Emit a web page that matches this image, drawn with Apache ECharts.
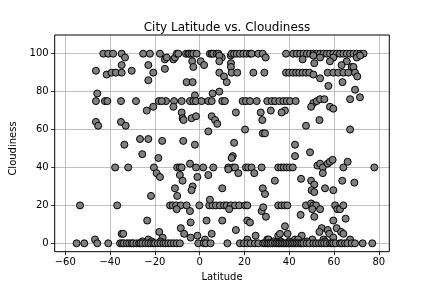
<!DOCTYPE html>
<html><head><meta charset="utf-8">
<script src="https://cdn.jsdelivr.net/npm/echarts@6/dist/echarts.min.js"></script>
<style>html,body{margin:0;padding:0;background:#fff}#c{width:432px;height:288px}</style>
</head><body><div id="c"></div>
<script>
// ---- data: [latitude, cloudiness] ----
const cloudTop = [[-43.0,100],[-40.8,100],[-38.6,100],[-34.8,100],[-33.3,98],[-25.2,100],[-22.2,100],[-17.7,100],[-15.5,97],[-11.7,97],[-14.7,98],[-11.0,98],[-10.2,100],[-9.5,100],[-6.1,100],[-5.1,100],[-4.6,100],[-3.6,100],[-2.8,100],[-1.3,100],[4.6,100],[5.4,100],[6.1,100],[7.6,100],[8.4,100],[9.9,98],[8.8,99],[13.9,99],[14.3,100],[15.4,100],[16.6,100],[18.0,100],[19.5,100],[21.0,100],[22.5,100],[23.2,100],[26.2,100],[28.2,100],[29.5,98],[38.6,100],[41.8,100],[43.4,100],[44.9,100],[46.4,100],[47.9,100],[49.3,100],[50.8,100],[52.3,100],[53.8,100],[55.3,100],[56.8,100],[58.2,100],[59.7,100],[61.2,100],[62.7,100],[64.2,100],[65.7,100],[67.2,100],[68.7,100],[70.2,100],[71.7,100],[73.2,100],[46.0,97],[50.8,99],[53.8,98],[59.7,98],[70.2,98],[71.7,99],[65.7,96]];
const cloudHigh = [[-46.3,91],[-41.5,89],[-39.3,90],[-37.4,90],[-34.8,90],[-34.8,94],[-30.3,91],[-22.9,94],[-20.7,90],[-22.9,86],[-15.5,92],[-3.3,96],[-2.8,93],[0.5,96],[2.0,94],[8.8,96],[14.0,95],[14.0,93],[14.3,90],[16.8,90],[24.0,90],[28.9,90],[8.8,90],[10.9,88],[12.1,85],[-5.8,85],[-3.1,85],[38.6,90],[51.2,95],[58.2,96],[63.4,94],[67.9,93],[40.0,90],[41.6,90],[43.1,90],[44.5,90],[46.0,90],[47.5,90],[49.0,90],[50.8,89],[53.8,87],[57.2,90],[59.7,90],[61.9,90],[64.2,90],[66.4,90],[68.7,93],[69.4,90],[70.4,88],[57.5,83],[63.8,85],[69.4,81]];
const cloudMidHigh = [[-45.7,79],[-46.3,75],[-42.3,75],[-41.2,75],[-35.1,75],[-28.4,75],[-18.2,75],[-15.0,75],[-23.6,70],[-20.7,72],[-46.3,64],[-45.3,62],[-35.1,64],[-33.0,62],[8.8,80],[5.8,79],[-2.1,78],[-16.9,75],[-11.4,75],[-8.0,75],[-4.3,75],[-2.8,75],[-1.6,75],[0.9,75],[3.9,75],[5.4,75],[10.1,75],[11.3,75],[19.2,75],[20.7,75],[22.5,75],[25.5,75],[30.2,75],[32.2,75],[33.7,75],[35.6,75],[37.4,75],[38.9,75],[-11.7,72],[-8.0,69],[-7.6,66],[-7.2,65],[-3.6,66],[-1.6,67],[5.4,67],[6.9,65],[7.9,63],[16.2,69],[27.3,69],[31.8,70],[28.0,65],[38.1,70],[3.9,59],[20.3,60],[28.2,58],[29.2,58],[40.4,75],[42.9,75],[50.8,74],[52.3,75],[53.8,76],[55.7,76],[49.8,72],[58.2,72],[59.7,71],[67.2,76],[71.6,77],[36.6,69],[53.5,65],[47.5,62],[67.2,60]];
const cloudMid = [[-26.6,55],[-22.9,55],[-16.7,54],[-33.6,52],[-25.6,47],[-18.4,45],[-7.3,54],[-2.1,52],[15.4,53],[14.8,46],[14.3,45],[-4.3,42],[42.6,52],[42.6,46],[49.3,48],[-37.7,40],[-31.9,40],[-20.4,40],[-19.2,37],[-17.7,35],[-10.0,40],[-8.8,40],[-8.0,40],[-1.6,40],[1.6,40],[6.1,40],[12.8,40],[14.8,40],[15.8,40],[20.7,40],[21.7,40],[23.2,40],[27.7,40],[35.1,40],[36.4,40],[37.6,40],[38.9,40],[40.2,40],[41.6,40],[52.6,41],[53.8,42],[55.0,40],[55.0,37],[57.2,42],[58.2,43],[59.4,44],[64.2,40],[66.1,43],[78.0,40],[3.9,36],[12.8,39],[17.3,37],[24.4,37],[-8.8,36],[-7.6,33],[-1.0,35],[33.6,33],[-11.0,29],[-10.0,25],[-3.1,30],[-3.6,28],[10.1,29],[28.2,29],[29.2,26],[-21.7,25],[45.3,34],[49.8,33],[51.2,31],[50.0,28],[51.2,27],[56.0,29],[59.7,28],[63.7,33],[69.1,32]];
const cloudLow = [[-53.4,20],[-36.8,20],[-13.2,20],[-12.0,20],[-10.5,20],[-8.4,20],[-5.8,20],[-0.1,20],[4.3,20],[5.8,20],[7.3,20],[9.1,20],[10.9,20],[12.1,20],[13.9,20],[15.8,20],[17.7,20],[20.3,20],[21.3,20],[35.1,20],[36.6,20],[38.0,20],[39.2,20],[-10.2,18],[-4.3,17],[13.2,18],[27.7,17],[28.4,19],[29.6,14],[4.6,23],[47.5,20],[49.8,21],[50.8,20],[52.0,20],[50.3,18],[53.8,18],[45.1,15],[51.2,14],[60.5,20],[61.5,18],[62.7,18],[64.2,20],[59.7,12],[65.2,13],[-23.4,12],[-4.0,11],[3.1,12],[10.1,12],[21.3,12],[22.5,11]];
const cloudNearZero = [[-34.8,5],[-34.1,5],[-18.0,6],[-16.5,3],[-46.7,2],[-25.5,1],[-22.9,2],[-21.4,1],[-17.5,1],[-8.4,8],[-6.9,5],[-4.0,3],[-1.0,4],[5.4,5],[16.2,7],[25.0,4],[35.1,4],[35.9,5],[38.1,9],[2.4,2],[21.3,2],[30.2,2],[30.8,2],[39.3,5],[45.6,4],[54.5,8],[53.5,6],[57.2,7],[57.9,5],[61.2,8],[63.2,6],[64.2,5],[67.2,2],[59.7,3],[50.3,2],[55.3,2],[42.6,2],[33.0,1],[36.2,1],[40.0,1],[44.0,2],[48.0,1],[56.0,1]];
const cloudZero = [[-54.9,0],[-51.5,0],[-45.7,0],[-40.8,0],[-35.5,0],[-34.6,0],[-33.8,0],[-32.5,0],[-31.4,0],[-30.3,0],[-29.6,0],[-28.2,0],[-27.0,0],[-26.4,0],[-25.5,0],[-24.1,0],[-22.9,0],[-21.8,0],[-20.7,0],[-19.9,0],[-18.6,0],[-17.4,0],[-16.2,0],[-15.2,0],[-14.0,0],[-12.8,0],[-11.5,0],[-10.2,0],[-8.8,0],[-0.6,0],[1.9,0],[2.8,0],[4.9,0],[12.4,0],[18.0,0],[19.8,0],[21.3,0],[22.8,0],[24.7,0],[26.2,0],[28.4,0],[29.2,0],[30.2,0],[30.9,0],[31.7,0],[32.5,0],[33.6,0],[34.3,0],[35.1,0],[35.8,0],[36.6,0],[37.3,0],[38.1,0],[38.8,0],[39.6,0],[40.3,0],[41.1,0],[41.8,0],[42.6,0],[43.4,0],[44.1,0],[44.9,0],[45.6,0],[46.4,0],[47.8,0],[49.0,0],[50.8,0],[52.0,0],[53.3,0],[54.5,0],[55.6,0],[56.8,0],[58.2,0],[59.0,0],[59.7,0],[60.8,0],[62.7,0],[63.5,0],[64.9,0],[66.0,0],[67.9,0],[69.4,0],[72.8,0],[77.1,0]];
const xTicks = {min: -60, max: 80, step: 20};
const yTicks = {min: 0, max: 100, step: 20};
const titleText = 'City Latitude vs. Cloudiness';
const xLabel = 'Latitude';
const yLabel = 'Cloudiness';

// ---- layout ----
const W = 432, H = 288;
const L = 54.7, R = 389.3, T = 35, B = 251.7;
const xMin = -64.7, xMax = 84.7, yMin = -4.43, yMax = 109.86;
const xPx = v => L + (v - xMin) / (xMax - xMin) * (R - L);
const yPx = v => T + (yMax - v) / (yMax - yMin) * (B - T);
const font = 'DejaVu Sans';
const minus = v => String(v).replace('-', '\u2212');

const allPoints = [].concat(cloudTop, cloudHigh, cloudMidHigh, cloudMid, cloudLow, cloudNearZero, cloudZero);

const chart = echarts.init(document.getElementById('c'), null, {renderer: 'canvas'});
chart.setOption({
  animation: false,
  backgroundColor: '#fff',
  title: {text: titleText, left: (L + R) / 2, textAlign: 'center', top: 17,
    textStyle: {fontFamily: font, fontSize: 12, fontWeight: 'normal', color: '#000'}},
  grid: [
    {left: L, right: W - R, top: T, bottom: H - B, show: true, borderColor: '#000', borderWidth: 1, backgroundColor: 'transparent', z: 3},
    {left: xPx(xTicks.min), right: W - xPx(xTicks.max), top: T, bottom: H - B},
    {left: L, right: W - R, top: yPx(yTicks.max), bottom: H - yPx(yTicks.min)}
  ],
  xAxis: [
    {type: 'value', gridIndex: 0, min: xMin, max: xMax, axisLine: {show: false}, axisTick: {show: false}, axisLabel: {show: false}, splitLine: {show: false}},
    {type: 'value', gridIndex: 1, min: xTicks.min, max: xTicks.max, interval: xTicks.step, position: 'bottom',
      axisLine: {show: false, onZero: false},
      axisTick: {show: true, length: 3.5, lineStyle: {color: '#000', width: 0.8}},
      axisLabel: {show: true, margin: 6, color: '#000', fontFamily: font, fontSize: 10, formatter: minus},
      splitLine: {show: true, lineStyle: {color: '#b0b0b0', width: 0.8}},
      name: xLabel, nameLocation: 'middle', nameGap: 19,
      nameTextStyle: {fontFamily: font, fontSize: 10, color: '#000'}},
    {type: 'value', gridIndex: 2, min: xMin, max: xMax, show: false, splitLine: {show: false}}
  ],
  yAxis: [
    {type: 'value', gridIndex: 0, min: yMin, max: yMax, axisLine: {show: false}, axisTick: {show: false}, axisLabel: {show: false}, splitLine: {show: false}},
    {type: 'value', gridIndex: 1, min: yMin, max: yMax, show: false, splitLine: {show: false}},
    {type: 'value', gridIndex: 2, min: yTicks.min, max: yTicks.max, interval: yTicks.step, position: 'left',
      axisLine: {show: false, onZero: false},
      axisTick: {show: true, length: 3.5, lineStyle: {color: '#000', width: 0.8}},
      axisLabel: {show: true, margin: 6, color: '#000', fontFamily: font, fontSize: 10, formatter: minus},
      splitLine: {show: true, lineStyle: {color: '#b0b0b0', width: 0.8}},
      name: yLabel, nameLocation: 'middle', nameGap: 27, nameRotate: 90,
      nameTextStyle: {fontFamily: font, fontSize: 10, color: '#000'}}
  ],
  series: [{
    type: 'scatter', xAxisIndex: 0, yAxisIndex: 0, z: 5,
    symbol: 'circle', symbolSize: 7,
    itemStyle: {color: '#808080', borderColor: '#000', borderWidth: 1, opacity: 1},
    data: allPoints
  }]
});
</script></body></html>
